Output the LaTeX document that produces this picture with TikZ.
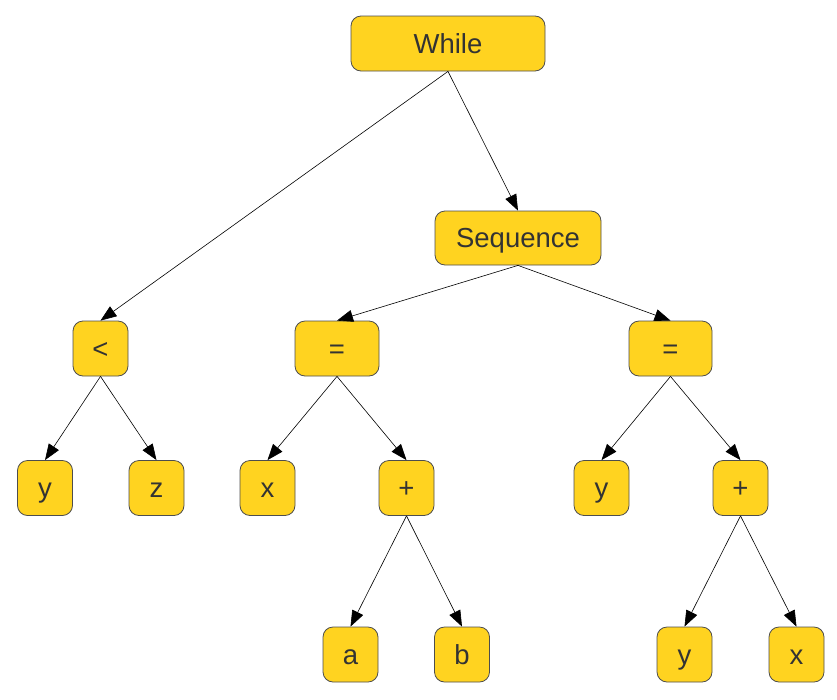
\documentclass[tikz,border=0pt]{standalone}
\usepackage{fontspec}
\setmainfont{Liberation Sans}
\usetikzlibrary{arrows.meta,positioning}
\definecolor{astfill}{HTML}{FFD320}
\definecolor{astline}{HTML}{4D4D4D}
\definecolor{asttext}{HTML}{333333}

\begin{document}
\begin{tikzpicture}[
  x=1pt, y=-1pt,
  ast/.style={
    draw=astline,
    fill=astfill,
    rounded corners=10pt,
    line width=0.8pt,
    inner sep=0pt,
    minimum width=55pt,
    minimum height=55pt,
    text=asttext,
    text height=19.7pt,
    text depth=0pt,
    font=\fontsize{27.5}{33}\selectfont
  },
  edge/.style={-{Triangle[length=16pt,width=12pt]}, line width=0.6pt}
]
\useasboundingbox (0,0) rectangle (837,699);
\node[ast, minimum width=194pt] (while) at (448,43.5) {While};
\node[ast, minimum width=166pt, minimum height=54pt] (seq) at (518,238) {Sequence};
\node[ast] (lt) at (100.5,348.5) {<};
\node[ast, minimum width=84pt] (asgnl) at (337,348.5) {=};
\node[ast, minimum width=83pt] (asgnr) at (670.5,348.5) {=};
\node[ast] (ly) at (45,488) {y};
\node[ast] (lz) at (156.5,488) {z};
\node[ast] (lx) at (267.5,488) {x};
\node[ast] (plusl) at (406.5,488) {+};
\node[ast] (ry) at (601.5,488) {y};
\node[ast] (plusr) at (740.5,488) {+};
\node[ast] (la) at (350.5,654.5) {a};
\node[ast] (lb) at (462,654.5) {b};
\node[ast] (rry) at (684.5,654.5) {y};
\node[ast] (rrx) at (796.5,654.5) {x};
\draw[edge] (while.south) -- (lt.north);
\draw[edge] (while.south) -- (seq.north);
\draw[edge] (seq.south) -- (asgnl.north);
\draw[edge] (seq.south) -- (asgnr.north);
\draw[edge] (lt.south) -- (ly.north);
\draw[edge] (lt.south) -- (lz.north);
\draw[edge] (asgnl.south) -- (lx.north);
\draw[edge] (asgnl.south) -- (plusl.north);
\draw[edge] (plusl.south) -- (la.north);
\draw[edge] (plusl.south) -- (lb.north);
\draw[edge] (asgnr.south) -- (ry.north);
\draw[edge] (asgnr.south) -- (plusr.north);
\draw[edge] (plusr.south) -- (rry.north);
\draw[edge] (plusr.south) -- (rrx.north);
\end{tikzpicture}
\end{document}
